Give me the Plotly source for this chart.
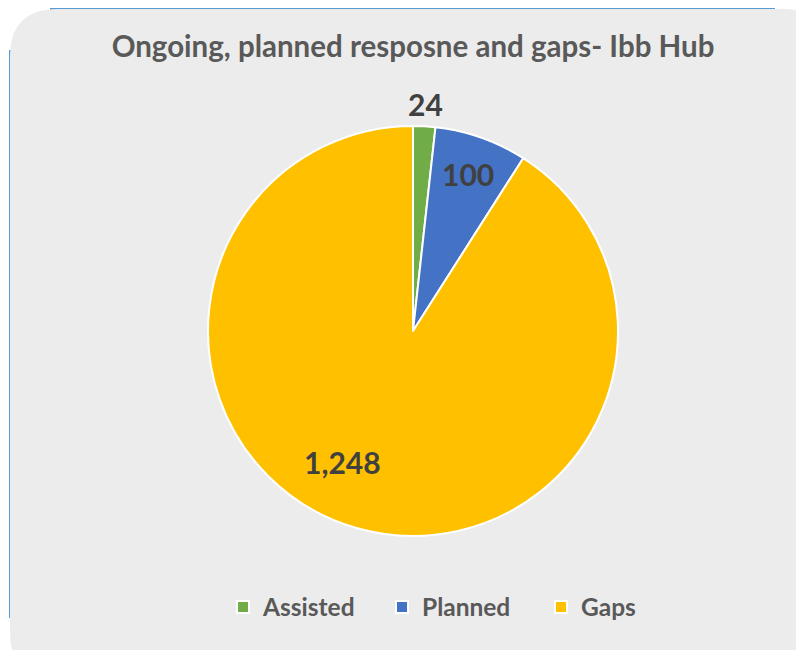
import math
import plotly.graph_objects as go

categories = ["Assisted", "Planned", "Gaps"]
values = [24, 100, 1248]
colors = ["#70AD47", "#4472C4", "#FFC000"]
label_radius_frac = [1.11, 0.81, 0.725]   # label distance from centre, as share of radius
label_angle_shift = [0, 0, 12]            # degrees, best-fit nudge of label along the slice
title_text = "Ongoing, planned resposne and gaps- Ibb Hub"

OFF = 8                     # page body margin of the html page
W, H = 804 - OFF, 650 - OFF
FONT = "Lato"

def px(x):
    return (x - OFF) / W

def py(y):
    return 1 - (y - OFF) / H

# pie geometry (page pixels)
CX, CY, RAD = 413, 331, 205

# rounded background panel
L, T, R, B, rr = 10, 9, 830, 680, 48
path = (
    f"M {px(L)},{py(T + rr)} "
    f"Q {px(L)},{py(T)} {px(L + rr)},{py(T)} "
    f"L {px(R - rr)},{py(T)} "
    f"Q {px(R)},{py(T)} {px(R)},{py(T + rr)} "
    f"L {px(R)},{py(B)} "
    f"L {px(L + rr)},{py(B)} "
    f"Q {px(L)},{py(B)} {px(L)},{py(B - rr)} Z"
)

fig = go.Figure()
fig.add_trace(go.Pie(
    labels=categories,
    values=values,
    marker=dict(colors=colors, line=dict(color="white", width=2)),
    sort=False,
    direction="clockwise",
    rotation=0,
    textinfo="none",
    hovertemplate="%{label}: %{value:,}<extra></extra>",
    automargin=False,
    domain=dict(x=[px(CX - RAD), px(CX + RAD)], y=[py(CY + RAD), py(CY - RAD)]),
    showlegend=True,
))

# data labels placed along each slice, computed from the values
total = sum(values)
annotations = []
cum = 0
for v, f, sh in zip(values, label_radius_frac, label_angle_shift):
    mid = (cum + v / 2) / total * 2 * math.pi + math.radians(sh)
    cum += v
    lx = CX + RAD * f * math.sin(mid)
    ly = CY - RAD * f * math.cos(mid)
    annotations.append(dict(
        x=px(lx), y=py(ly), xref="paper", yref="paper", showarrow=False,
        text=f"{v:,}", xanchor="center", yanchor="middle",
        font=dict(family=FONT, size=30, color="#404040", weight="bold"),
    ))

fig.update_layout(
    width=W, height=H,
    margin=dict(l=0, r=0, t=0, b=0),
    paper_bgcolor="white",
    plot_bgcolor="white",
    title=dict(text=title_text, x=px(413), xanchor="center", y=py(47), yanchor="middle",
               font=dict(family=FONT, size=29.5, color="#595959", weight="bold")),
    legend=dict(orientation="h", x=px(223), xanchor="left", y=py(607), yanchor="middle",
                font=dict(family=FONT, size=24.5, color="#595959", weight="bold"),
                bgcolor="rgba(0,0,0,0)", entrywidth=114, entrywidthmode="pixels"),
    annotations=annotations,
    shapes=[
        dict(type="line", xref="paper", yref="paper", x0=px(50), x1=px(775), y0=py(9), y1=py(9),
             line=dict(color="#5B9BD5", width=2), layer="below"),
        dict(type="line", xref="paper", yref="paper", x0=px(10), x1=px(10), y0=py(50), y1=py(618),
             line=dict(color="#5B9BD5", width=2), layer="below"),
        dict(type="path", xref="paper", yref="paper", path=path,
             fillcolor="#ECECEC", line=dict(width=0), layer="below"),
    ],
)

fig.write_html("out.html")
